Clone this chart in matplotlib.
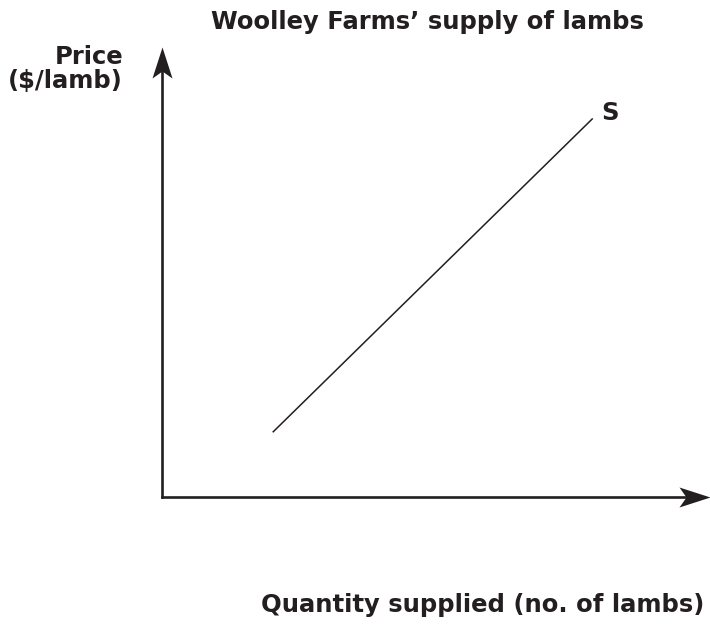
import numpy as np
import matplotlib
matplotlib.use("Agg")
import matplotlib.pyplot as plt
from matplotlib.path import Path

# supply curve end points (arbitrary units, axes run 0..10)
quantity = [2.03, 7.85]
price = [1.45, 8.40]
curve_label = "S"

title = "Woolley Farms\u2019 supply of lambs"
x_label = "Quantity supplied (no. of lambs)"
y_label = "Price\n($/lamb)"

ink = "#231f20"
plt.rcParams["font.family"] = ["DejaVu Sans"]
fs = 17.5

fig = plt.figure(figsize=(7.1, 6.24), dpi=100)
W, H = 710, 624
ax = fig.add_axes([162 / W, (H - 497) / H, (710 - 162) / W, (497 - 47) / H])
ax.set_xlim(0, 10)
ax.set_ylim(0, 10)
ax.axis("off")

# notched arrow heads, tip at the origin of the path
right_head = Path([(0, 0), (-31, 10), (-24, 0), (-31, -10), (0, 0)],
                  [Path.MOVETO, Path.LINETO, Path.LINETO, Path.LINETO, Path.CLOSEPOLY])
up_head = Path([(0, 0), (10, -31), (0, -24), (-10, -31), (0, 0)],
               [Path.MOVETO, Path.LINETO, Path.LINETO, Path.LINETO, Path.CLOSEPOLY])
msize = 62 * 72 / 100

ax.plot([0, 9.7], [0, 0], color=ink, lw=1.9, clip_on=False, solid_capstyle="projecting")
ax.plot([0, 0], [0, 9.6], color=ink, lw=1.9, clip_on=False, solid_capstyle="projecting")
ax.plot(10, 0, marker=right_head, ms=msize, color=ink, mew=0, clip_on=False)
ax.plot(0, 10, marker=up_head, ms=msize, color=ink, mew=0, clip_on=False)

ax.plot(quantity, price, color=ink, lw=1.1)
ax.annotate(curve_label, (quantity[-1], price[-1]), xytext=(13, 4), textcoords="offset points",
            ha="center", va="center", fontsize=fs, fontweight="bold", color=ink)

fig.text(427 / W, 1 - 22 / H, title, ha="center", va="center",
         fontsize=fs, fontweight="bold", color=ink)
fig.text(123 / W, 1 - 69 / H, y_label, ha="right", va="center", multialignment="right",
         fontsize=fs, fontweight="bold", color=ink, linespacing=1.05)
fig.text(704 / W, 1 - 605 / H, x_label, ha="right", va="center",
         fontsize=fs, fontweight="bold", color=ink)

fig.savefig("out.png", dpi=100)
